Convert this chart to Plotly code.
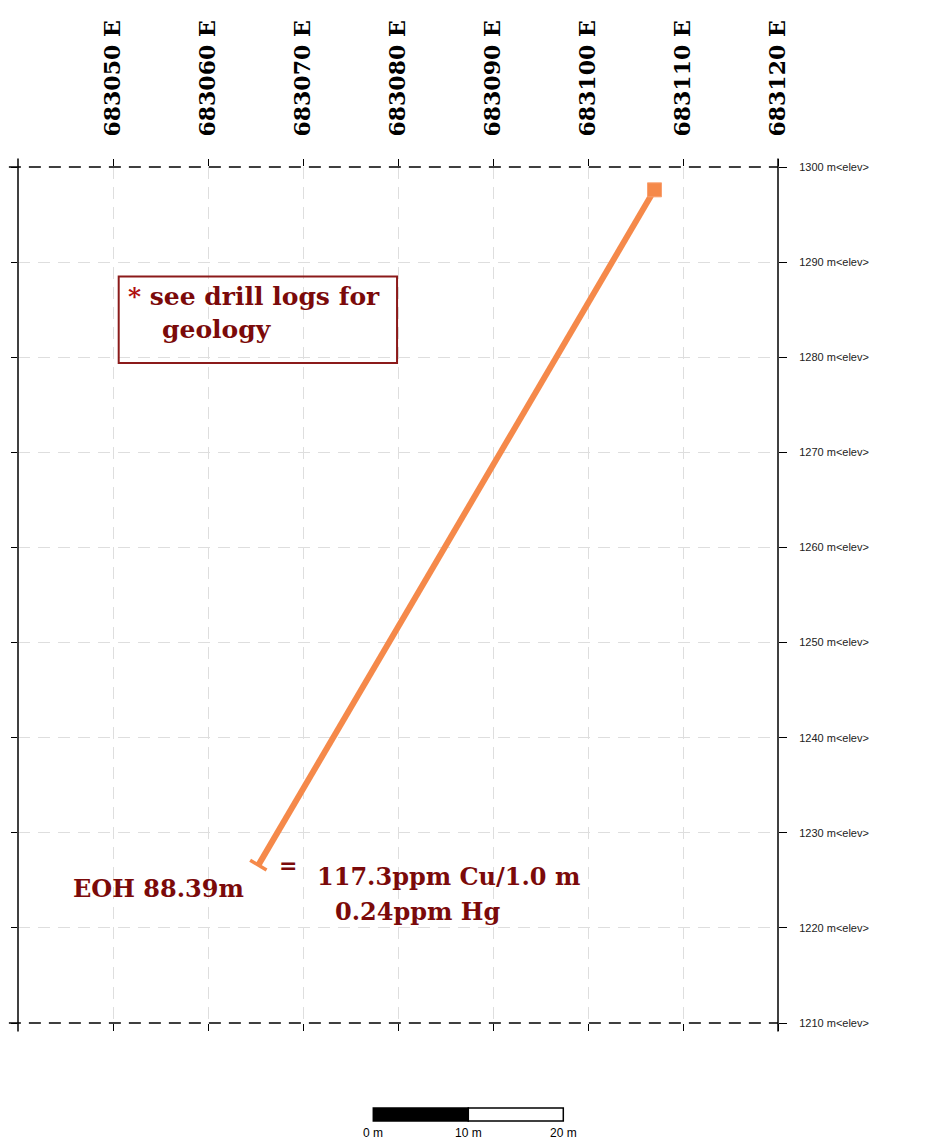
import math
import plotly.graph_objects as go

# ---------------- data ----------------
x_range = [683040, 683120]
y_range = [1210, 1300]
east_ticks = [683050, 683060, 683070, 683080, 683090, 683100, 683110, 683120]
east_labels = [f"{v} E" for v in east_ticks]
elev_ticks = [1210, 1220, 1230, 1240, 1250, 1260, 1270, 1280, 1290, 1300]
elev_labels = [f"{v} m&lt;elev&gt;" for v in elev_ticks]

hole_east = [683107.0, 683065.3]   # collar -> end of hole
hole_elev = [1297.6, 1226.6]

scale_marks = [0, 10, 20]
scale_labels = ["0 m", "10 m", "20 m"]
scale_origin = 683077.4

ORANGE = "#F5894A"
DARKRED = "#7B0A0A"
SERIF = "DejaVu Serif"

fig = go.Figure()

# drill hole trace
fig.add_trace(go.Scatter(x=hole_east, y=hole_elev, mode="lines",
                         line=dict(color=ORANGE, width=6), hoverinfo="skip",
                         showlegend=False))
# collar marker
fig.add_trace(go.Scatter(x=hole_east[:1], y=hole_elev[:1], mode="markers",
                         marker=dict(symbol="square", size=14, color=ORANGE,
                                     line=dict(width=1, color="#F9A070")),
                         showlegend=False, hoverinfo="skip"))
# end-of-hole bar (perpendicular to hole)
dx = hole_east[0] - hole_east[1]
dy = hole_elev[0] - hole_elev[1]
L = math.hypot(dx, dy)
px, py = -dy / L, dx / L
half = 1.0
fig.add_trace(go.Scatter(x=[hole_east[1] - px * half, hole_east[1] + px * half],
                         y=[hole_elev[1] - py * half, hole_elev[1] + py * half],
                         mode="lines", line=dict(color=ORANGE, width=3.5),
                         showlegend=False, hoverinfo="skip"))
# invisible trace for secondary (tick-only) axes
fig.add_trace(go.Scatter(x=[x_range[0]], y=[y_range[0]], xaxis="x2", yaxis="y2",
                         mode="markers", marker=dict(opacity=0), showlegend=False,
                         hoverinfo="skip"))

grid = dict(showgrid=True, gridcolor="#dedede", gridwidth=1, griddash="12px,8px",
            zeroline=False, showline=False, automargin=False)

fig.update_layout(
    width=933, height=1142, autosize=False,
    margin=dict(l=18, r=155, t=167, b=119),
    paper_bgcolor="white", plot_bgcolor="white",
    xaxis=dict(range=x_range, side="top", tickmode="array", tickvals=east_ticks,
               ticktext=east_labels, tickangle=-90, ticks="outside", ticklen=7,
               tickcolor="black", tickwidth=1, ticklabelstandoff=18,
               tickfont=dict(family=SERIF, size=22, color="black", weight="bold"),
               **grid),
    yaxis=dict(range=y_range, side="right", tickmode="array", tickvals=elev_ticks,
               ticktext=elev_labels, ticks="outside", ticklen=8, tickcolor="black",
               tickwidth=1, ticklabelstandoff=10,
               tickfont=dict(family="Liberation Sans", size=11, color="#222"),
               **grid),
    xaxis2=dict(range=x_range, overlaying="x", side="bottom", anchor="y2",
                tickmode="array", tickvals=east_ticks, ticks="outside", ticklen=7,
                tickcolor="black", showticklabels=False, showgrid=False,
                zeroline=False, showline=False, automargin=False),
    yaxis2=dict(range=y_range, overlaying="y", side="left", anchor="x2",
                tickmode="array", tickvals=elev_ticks, ticks="outside", ticklen=6,
                tickcolor="black", showticklabels=False, showgrid=False,
                zeroline=False, showline=False, automargin=False),
)

shapes = []
# frame: solid verticals, dashed horizontals
for xp in (0, 1):
    shapes.append(dict(type="line", xref="paper", yref="paper", x0=xp, x1=xp,
                       y0=-0.01, y1=1.01, line=dict(color="black", width=1.5)))
for yp in (0, 1):
    shapes.append(dict(type="line", xref="paper", yref="paper", x0=-0.012, x1=1.0,
                       y0=yp, y1=yp, line=dict(color="black", width=1.5, dash="12px,8px")))

# note box
shapes.append(dict(type="rect", xref="x", yref="y", x0=683050.6, x1=683079.9,
                   y0=1279.4, y1=1288.5, line=dict(color="#8B1A1A", width=2),
                   fillcolor="rgba(0,0,0,0)"))

# scale bar
bar_top, bar_bot = -0.0993, -0.1145
for i in range(len(scale_marks) - 1):
    shapes.append(dict(type="rect", xref="x", yref="paper",
                       x0=scale_origin + scale_marks[i], x1=scale_origin + scale_marks[i + 1],
                       y0=bar_bot, y1=bar_top,
                       fillcolor="black" if i % 2 == 0 else "white",
                       line=dict(color="black", width=1.5)))
fig.update_layout(shapes=shapes)

ann = []
def txt(x, y, s, size=23, color=DARKRED, xanchor="left", family=SERIF, bold=True):
    ann.append(dict(x=x, y=y, xref="x", yref="y", text=s, showarrow=False,
                    xanchor=xanchor, yanchor="middle",
                    font=dict(family=family, size=size, color=color,
                              weight="bold" if bold else "normal")))

txt(683051.4, 1286.4, "<span style='color:#B01010'>*</span> see drill logs for", size=25)
txt(683054.9, 1282.9, "geology", size=25)
txt(683045.6, 1224.1, "EOH 88.39m", size=24)
txt(683067.3, 1226.6, "=", size=22)
txt(683071.3, 1225.4, "117.3ppm Cu/1.0 m", size=24)
txt(683073.2, 1221.7, "0.24ppm Hg", size=24)

for m, lab in zip(scale_marks, scale_labels):
    ann.append(dict(x=scale_origin + m, y=-0.1285, xref="x", yref="paper", text=lab,
                    showarrow=False, xanchor="center", yanchor="middle",
                    font=dict(family="Liberation Sans", size=12, color="black")))
fig.update_layout(annotations=ann)

fig.write_html("out.html",
               config={"displayModeBar": False},
               post_script="document.body.style.margin='0px';"
                           "document.body.style.overflow='hidden';")
